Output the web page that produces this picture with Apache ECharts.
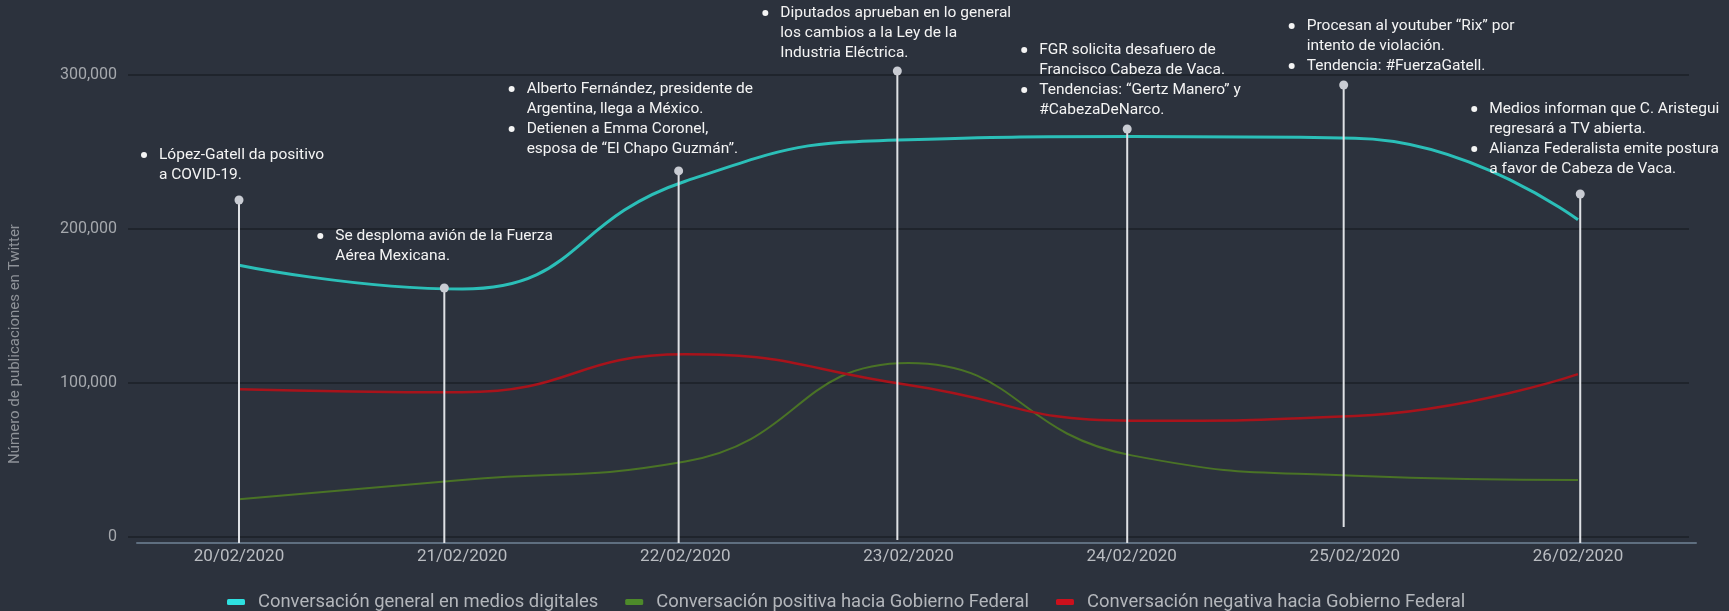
<!DOCTYPE html>
<html>
<head>
<meta charset="utf-8">
<script src="https://cdn.jsdelivr.net/npm/echarts@6/dist/echarts.min.js"></script>
<style>
  html, body { margin: 0; padding: 0; background: #2c323d; }
  #chart { width: 1729px; height: 611px; }
</style>
</head>
<body>
<div id="chart"></div>
<script>
// fechas del eje x
var dates = ['20/02/2020', '21/02/2020', '22/02/2020', '23/02/2020', '24/02/2020', '25/02/2020', '26/02/2020'];
// publicaciones por día
var general = [176500, 161000, 231000, 258000, 260000, 259000, 206000];
var positiva = [24500, 37000, 49000, 113000, 53000, 39800, 37000];
var negativa = [96000, 94000, 118600, 98700, 75500, 78600, 105800];
var yTicks = [0, 100000, 200000, 300000];
var seriesNames = [
  'Conversación general en medios digitales',
  'Conversación positiva hacia Gobierno Federal',
  'Conversación negativa hacia Gobierno Federal'
];

// eventos: posición en días desde 20/02, valor del punto y del pie de la línea
var eventPos = [0, 0.92, 1.97, 2.95, 3.98, 4.95, 6.01];
var eventTop = [218800, 161700, 237700, 302600, 264900, 293500, 222700];
var eventBase = [-3900, -3900, -3900, -1900, -3900, 6500, -3900];
var eventNotes = [
  [['López-Gatell da positivo', 'a COVID-19.']],
  [['Se desploma avión de la Fuerza', 'Aérea Mexicana.']],
  [['Alberto Fernández, presidente de', 'Argentina, llega a México.'], ['Detienen a Emma Coronel,', 'esposa de “El Chapo Guzmán”.']],
  [['Diputados aprueban en lo general', 'los cambios a la Ley de la', 'Industria Eléctrica.']],
  [['FGR solicita desafuero de', 'Francisco Cabeza de Vaca.'], ['Tendencias: “Gertz Manero” y', '#CabezaDeNarco.']],
  [['Procesan al youtuber “Rix” por', 'intento de violación.'], ['Tendencia: #FuerzaGatell.']],
  [['Medios informan que C. Aristegui', 'regresará a TV abierta.'], ['Alianza Federalista emite postura', 'a favor de Cabeza de Vaca.']]
];
// desplazamiento del texto respecto al punto (px)
var noteOffset = [[-95, -45], [-124, -52], [-167, -82], [-132, -58], [-103, -79], [-52, -59], [-106, -85]];

var chart = echarts.init(document.getElementById('chart'));

function renderEvent (params, api) {
  var i = params.dataIndex;
  var top = api.coord([api.value(0), api.value(1)]);
  var base = api.coord([api.value(0), api.value(2)]);
  var children = [
    { type: 'line', shape: { x1: top[0], y1: top[1], x2: base[0], y2: base[1] }, style: { stroke: '#dfe1e5', lineWidth: 2 } },
    { type: 'circle', shape: { cx: top[0], cy: top[1], r: 4.5 }, style: { fill: '#c9ccd3' } }
  ];
  var bx = top[0] + noteOffset[i][0];
  var by = top[1] + noteOffset[i][1];
  eventNotes[i].forEach(function (item) {
    children.push({ type: 'circle', shape: { cx: bx, cy: by, r: 3 }, style: { fill: '#f4f4f4' } });
    item.forEach(function (line) {
      children.push({
        type: 'text',
        x: bx + 15,
        y: by,
        style: { text: line, fill: '#f4f4f4', fontSize: 15.5, fontFamily: 'Roboto', verticalAlign: 'middle', align: 'left' }
      });
      by += 20;
    });
  });
  return { type: 'group', children: children };
}

var font = 'Roboto';

chart.setOption({
  backgroundColor: '#2c323d',
  animation: false,
  grid: [
    { left: 239, right: 151, top: 75, bottom: 74 },
    { left: 128, right: 40, top: 75, bottom: 74 },
    { left: 137, right: 33, top: 75, bottom: 68 }
  ],
  legend: {
    left: 222,
    top: 588,
    icon: 'roundRect',
    itemWidth: 18,
    itemHeight: 6,
    itemGap: 27,
    textStyle: { color: '#b3b6bb', fontSize: 18.4, fontFamily: font, padding: [0, 0, 0, 8] },
    data: [
      { name: seriesNames[0], itemStyle: { color: '#2ee0e0' } },
      { name: seriesNames[1], itemStyle: { color: '#4d8a2a' } },
      { name: seriesNames[2], itemStyle: { color: '#cc101c' } }
    ]
  },
  graphic: [{
    type: 'text',
    x: 15,
    y: 344,
    rotation: Math.PI / 2,
    style: {
      text: 'Número de publicaciones en Twitter',
      fill: '#8e9298',
      fontSize: 15,
      fontFamily: font,
      align: 'center',
      verticalAlign: 'middle'
    }
  }],
  xAxis: [
    {
      type: 'category', gridIndex: 0, data: dates, boundaryGap: false,
      axisLine: { show: false }, axisTick: { show: false },
      axisLabel: { color: '#b9bcc1', fontSize: 17, fontFamily: font, margin: 11 }
    },
    { type: 'category', gridIndex: 1, data: dates, show: false },
    {
      type: 'category', gridIndex: 2, data: dates,
      axisLine: { lineStyle: { color: '#5f6f80', width: 2 } },
      axisTick: { show: false }, axisLabel: { show: false }
    },
    { type: 'value', gridIndex: 0, min: 0, max: 6, show: false }
  ],
  yAxis: [
    { type: 'value', gridIndex: 0, min: 0, max: 300000, show: false },
    {
      type: 'value', gridIndex: 1, min: yTicks[0], max: yTicks[yTicks.length - 1], interval: 100000,
      axisLine: { show: false }, axisTick: { show: false },
      axisLabel: {
        color: '#a5a8ad', fontSize: 16, fontFamily: font, margin: 11,
        formatter: function (v) { return v.toLocaleString('en-US') }
      },
      splitLine: { lineStyle: { color: '#1f242c', width: 2 } }
    },
    { type: 'value', gridIndex: 2, min: 0, max: 300000, show: false }
  ],
  series: [
    {
      name: seriesNames[0], type: 'line', data: general, smooth: true, showSymbol: false,
      xAxisIndex: 0, yAxisIndex: 0, lineStyle: { color: '#2bbfb8', width: 3 }, itemStyle: { color: '#2bbfb8' }
    },
    {
      name: seriesNames[1], type: 'line', data: positiva, smooth: true, showSymbol: false,
      xAxisIndex: 0, yAxisIndex: 0, lineStyle: { color: '#4a7326', width: 2 }, itemStyle: { color: '#4a7326' }
    },
    {
      name: seriesNames[2], type: 'line', data: negativa, smooth: true, showSymbol: false,
      xAxisIndex: 0, yAxisIndex: 0, lineStyle: { color: '#a8131b', width: 2.5 }, itemStyle: { color: '#a8131b' }
    },
    {
      type: 'custom', xAxisIndex: 3, yAxisIndex: 0, clip: false, silent: true, z: 5,
      encode: { x: 0, y: 1 },
      renderItem: renderEvent,
      data: eventPos.map(function (x, i) { return [x, eventTop[i], eventBase[i]] })
    }
  ]
});
</script>
</body>
</html>
